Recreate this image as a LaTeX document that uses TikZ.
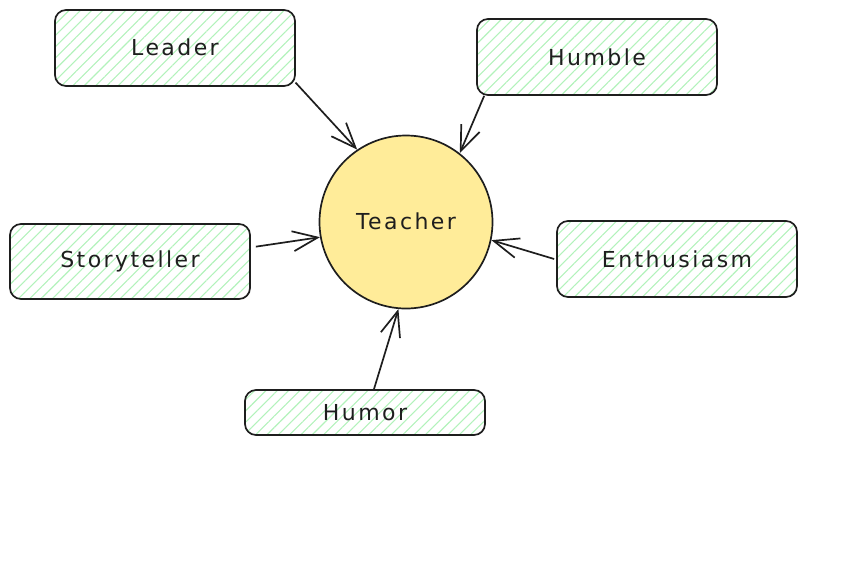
\documentclass[tikz,border=0pt]{standalone}
\usepackage{fontspec}
\setmainfont{DejaVu Sans}[LetterSpace=11]
\usetikzlibrary{patterns.meta,arrows.meta}
\definecolor{ink}{HTML}{1E1E1E}
\definecolor{hatch}{HTML}{B2F2BB}
\definecolor{sun}{HTML}{FFEC99}
\tikzset{
  trait/.style={draw=ink, line width=1.7pt, rounded corners=11pt,
    pattern={Lines[angle=45,distance=8pt,line width=1.1pt]}, pattern color=hatch,
    minimum width=240pt, inner sep=0pt, text=ink,
    font=\fontsize{22}{26}\selectfont},
  hub/.style={circle, draw=ink, line width=1.7pt, fill=sun, minimum size=173pt,
    inner sep=0pt, text=ink, font=\fontsize{22}{26}\selectfont},
  link/.style={draw=ink, line width=1.7pt, -{Straight Barb[length=25pt,width=20pt,line width=1.7pt]}}
}
\begin{document}
\begin{tikzpicture}[x=1pt,y=-1pt]
\useasboundingbox (0,0) rectangle (867,566);
\node[hub] (teacher) at (406,222) {\raisebox{1pt}{Teacher}};
\node[trait, minimum height=76pt] (leader) at (175,48) {\raisebox{2pt}{Leader}};
\node[trait, minimum height=76pt] (humble) at (597,57) {Humble};
\node[trait, minimum height=75pt] (story) at (130,261.5) {Storyteller};
\node[trait, minimum height=76pt] (enth) at (677,259) {Enthusiasm};
\node[trait, minimum height=45pt] (humor) at (365,412.5) {Humor};
\draw[link] (leader.-16) -- (teacher.124);
\draw[link] (humble.199) -- (teacher.52);
\draw[link] ([xshift=5pt]story.7) -- (teacher.190);
\draw[link] ([xshift=-2pt]enth.180) -- (teacher.-12);
\draw[link] (humor.69) -- (teacher.265);
\end{tikzpicture}
\end{document}
